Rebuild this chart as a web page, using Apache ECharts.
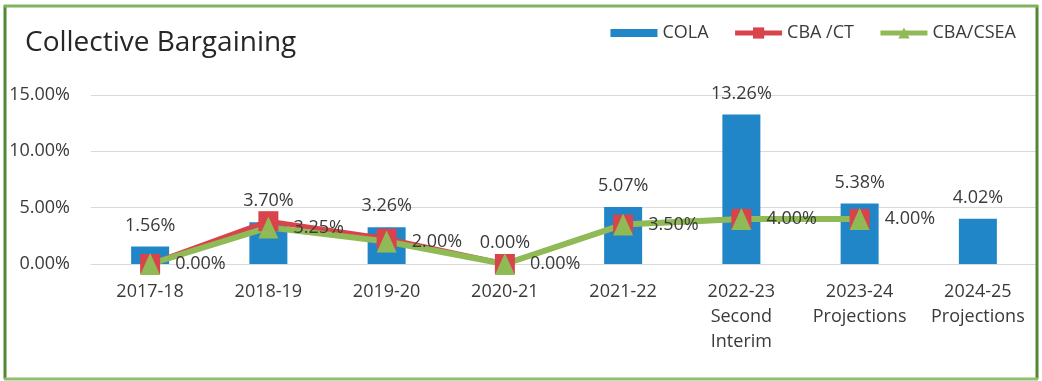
<!DOCTYPE html>
<html>
<head>
<meta charset="utf-8">
<title>Collective Bargaining</title>
<script src="https://cdn.jsdelivr.net/npm/echarts@6/dist/echarts.min.js"></script>
<style>
  html, body { margin: 0; padding: 0; background: #ffffff; }
  #chart { width: 1042px; height: 381px; }
</style>
</head>
<body>
<div id="chart"></div>
<script>
// Fiscal years shown on the category axis
const categories = [
  '2017-18', '2018-19', '2019-20', '2020-21', '2021-22',
  '2022-23\nSecond\nInterim', '2023-24\nProjections', '2024-25\nProjections'
];
// Percent values per year
const colaValues = [1.56, 3.70, 3.26, 0.00, 5.07, 13.26, 5.38, 4.02];
const cbaCtValues = [0.00, 3.80, 2.25, 0.00, 3.50, 4.00, 4.00, null];
const cbaCseaValues = [0.00, 3.25, 2.00, 0.00, 3.50, 4.00, 4.00, null];
// Value axis ticks
const yTicks = [0, 5, 10, 15];

const FONT = '"Open Sans", "Noto Sans", sans-serif';
const TEXT = '#3a3a3a';
const pct = v => Number(v).toFixed(2) + '%';

const chart = echarts.init(document.getElementById('chart'), null, { renderer: 'canvas' });

chart.setOption({
  animation: false,
  textStyle: { fontFamily: FONT },
  title: {
    text: 'Collective Bargaining',
    left: 20,
    top: 24,
    textStyle: { fontFamily: FONT, fontSize: 28, fontWeight: 'normal', color: '#262626' }
  },
  legend: {
    right: 26,
    top: 24,
    padding: 0,
    itemGap: 24,
    itemWidth: 47,
    itemHeight: 14,
    textStyle: { fontFamily: FONT, fontSize: 18, color: TEXT },
    data: [
      { name: 'COLA', icon: 'path://M0 0H47V8H0Z' },
      { name: 'CBA /CT', lineStyle: { width: 5 } },
      { name: 'CBA/CSEA', lineStyle: { width: 5 } }
    ]
  },
  grid: { left: 91, right: 5, top: 95, bottom: 117 },
  xAxis: {
    type: 'category',
    data: categories,
    axisTick: { show: false },
    axisLine: { lineStyle: { color: '#d9d9d9', width: 1 } },
    axisLabel: {
      interval: 0,
      margin: 15,
      fontFamily: FONT,
      fontSize: 18,
      lineHeight: 25,
      color: TEXT
    }
  },
  yAxis: {
    type: 'value',
    min: yTicks[0],
    max: yTicks[yTicks.length - 1],
    interval: yTicks[1] - yTicks[0],
    axisLine: { show: false },
    axisTick: { show: false },
    splitLine: { lineStyle: { color: '#d9d9d9', width: 1 } },
    axisLabel: {
      margin: 21,
      fontFamily: FONT,
      fontSize: 18,
      color: TEXT,
      formatter: v => pct(v)
    }
  },
  series: [
    {
      name: 'COLA',
      type: 'bar',
      data: colaValues,
      barWidth: 38,
      itemStyle: { color: '#2186c8' },
      label: {
        show: true,
        position: 'top',
        distance: 12,
        fontFamily: FONT,
        fontSize: 18,
        color: TEXT,
        formatter: p => pct(p.value)
      }
    },
    {
      name: 'CBA /CT',
      type: 'line',
      data: cbaCtValues,
      symbol: 'rect',
      symbolSize: 20,
      showAllSymbol: true,
      lineStyle: { color: '#d9434c', width: 5 },
      itemStyle: { color: '#d9434c' }
    },
    {
      name: 'CBA/CSEA',
      type: 'line',
      data: cbaCseaValues,
      symbol: 'triangle',
      symbolSize: [20, 22],
      showAllSymbol: true,
      lineStyle: { color: '#8fba56', width: 6 },
      itemStyle: { color: '#8fba56' },
      label: {
        show: true,
        position: 'right',
        distance: 15,
        fontFamily: FONT,
        fontSize: 18,
        color: TEXT,
        formatter: p => pct(p.value)
      }
    }
  ],
  graphic: [
    // green frame around the chart
    { type: 'line', shape: { x1: 5, y1: 5, x2: 5, y2: 379 }, style: { stroke: '#4f8a33', lineWidth: 3 }, z: 100 },
    { type: 'line', shape: { x1: 1037, y1: 5, x2: 1037, y2: 379 }, style: { stroke: '#4f8a33', lineWidth: 3 }, z: 100 },
    { type: 'line', shape: { x1: 4, y1: 6, x2: 1038, y2: 6 }, style: { stroke: '#7fb35e', lineWidth: 3 }, z: 100 },
    { type: 'line', shape: { x1: 4, y1: 379, x2: 1038, y2: 379 }, style: { stroke: '#8cc070', lineWidth: 3 }, z: 100 }
  ]
});
</script>
</body>
</html>
